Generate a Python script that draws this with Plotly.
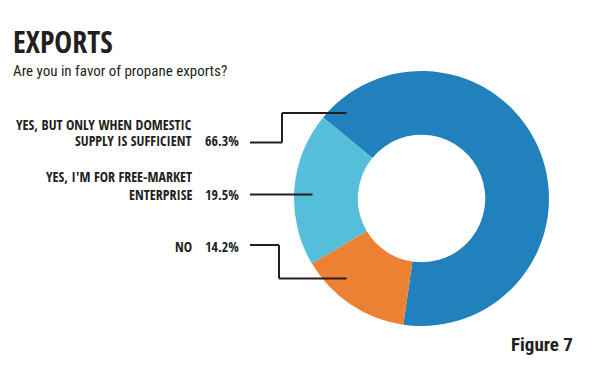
import plotly.graph_objects as go

# ---- data ----
categories = ["YES, BUT ONLY WHEN DOMESTIC SUPPLY IS SUFFICIENT", "NO", "YES, I'M FOR FREE-MARKET ENTERPRISE"]
label_lines = [["YES, BUT ONLY WHEN DOMESTIC", "SUPPLY IS SUFFICIENT"], ["NO"], ["YES, I'M FOR FREE-MARKET", "ENTERPRISE"]]
values = [66.3, 14.2, 19.5]
colors = ["#2181BC", "#ED8133", "#55BEDB"]
title = "EXPORTS"
subtitle = "Are you in favor of propane exports?"
figure_label = "Figure 7"

# page body has an 8px margin; the figure is sized so that it ends at the window edge
OFF = 8
W, H = 600 - OFF, 369 - OFF
BOLD = "Open Sans Condensed, Roboto Condensed, DejaVu Sans Condensed"
REG = "Roboto Condensed, DejaVu Sans Condensed"
INK = "#231F20"

def px(x):
    return (x - OFF) / W

def py(y):
    return 1 - (y - OFF) / H

cx, cy, r = 421.5, 198.5, 127.5

fig = go.Figure(go.Pie(
    labels=categories, values=values, hole=0.5, sort=False, direction="clockwise",
    rotation=-50.5, marker=dict(colors=colors, line=dict(width=0)),
    textinfo="none", hoverinfo="label+percent", showlegend=False,
    domain=dict(x=[px(cx - r), px(cx + r)], y=[py(cy + r), py(cy - r)]),
))

annotations = []
def ann(text, x, y, size, weight="bold", xanchor="right", family=BOLD):
    annotations.append(dict(text=text, x=px(x), y=py(y), xref="paper", yref="paper",
                            xanchor=xanchor, yanchor="middle", showarrow=False,
                            font=dict(family=family, size=size, color=INK, weight=weight)))

# label positions (right edge, cap-centre y for each line)
label_y = [[124, 140], [246], [176.5, 194]]
for lines, ys, v in zip(label_lines, label_y, values):
    for t, y in zip(lines, ys):
        ann(t, 194, y, 14)
    ann(f"{v:.1f}%", 241, ys[-1], 14)

ann(title, 11, 41.5, 30, xanchor="left")
ann(subtitle, 11, 71, 15, weight="normal", xanchor="left", family=REG)
ann(figure_label, 575, 344, 19, family="Roboto Condensed, DejaVu Sans Condensed")

shapes = []
def seg(x0, y0, x1, y1):
    shapes.append(dict(type="line", xref="paper", yref="paper", x0=px(x0), y0=py(y0),
                       x1=px(x1), y1=py(y1), line=dict(color=INK, width=2)))

# connectors
seg(250, 142.5, 282, 142.5); seg(282, 142.5, 282, 113); seg(282, 113, 346.5, 113)
seg(250, 194.5, 312.5, 194.5)
seg(250, 245, 279, 245); seg(279, 245, 279, 278.5); seg(279, 278.5, 346.5, 278.5)

fig.update_layout(width=W, height=H, margin=dict(l=0, r=0, t=0, b=0),
                  paper_bgcolor="white", plot_bgcolor="white",
                  annotations=annotations, shapes=shapes)
fig.write_html("out.html")
